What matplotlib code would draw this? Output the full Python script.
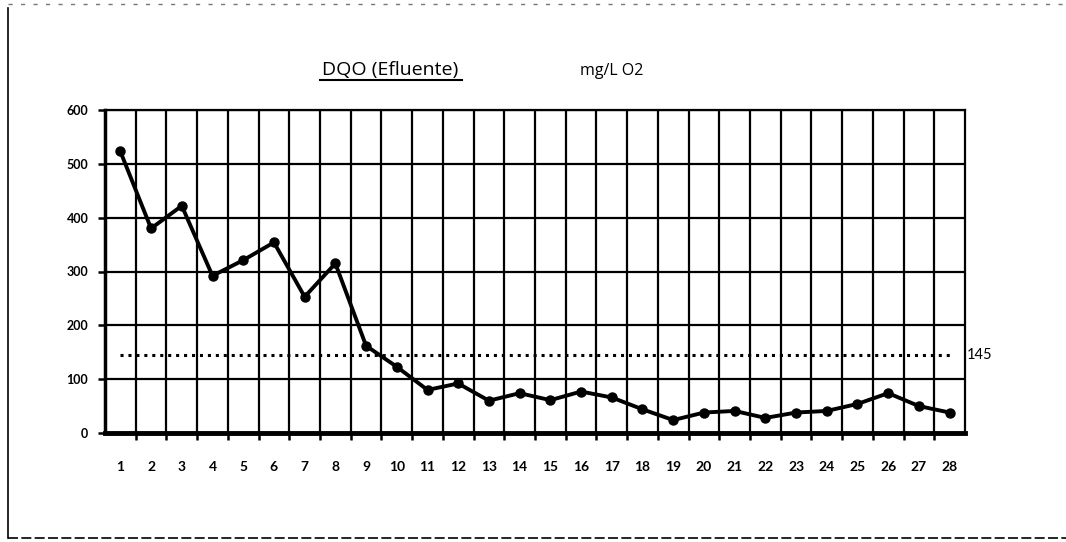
import matplotlib
matplotlib.use("Agg")
import matplotlib.pyplot as plt
from matplotlib.lines import Line2D
from matplotlib.ticker import FixedLocator

days = list(range(1, 29))
dqo = [523, 380, 422, 292, 321, 354, 253, 315, 162, 123, 80, 92, 60, 74, 61, 77, 66, 44, 24, 38, 41, 28, 38, 41, 54, 74, 50, 38]
limit_value = 145
y_ticks = [0, 100, 200, 300, 400, 500, 600]
title_text = "DQO (Efluente)"
unit_text = "mg/L O2"

fig = plt.figure(figsize=(10.66, 5.42), dpi=100)
ax = fig.add_axes([105/1066, 1-433/542, (965-105)/1066, (433-110)/542])

ax.set_xlim(0.5, 28.5)
ax.set_ylim(0, 600)

# grid
ax.xaxis.set_minor_locator(FixedLocator([d + 0.5 for d in days[:-1]]))
ax.set_xticks(days)
ax.set_yticks(y_ticks)
ax.grid(True, which="minor", axis="x", color="black", lw=1.6)
ax.grid(True, which="major", axis="y", color="black", lw=1.6)
ax.set_axisbelow(True)

ax.tick_params(axis="x", which="major", length=0, pad=20, labelsize=10)
ax.tick_params(axis="x", which="minor", length=5, width=1.8, direction="out")
ax.tick_params(axis="y", which="major", length=5, width=1.8, pad=7, labelsize=9)
for lbl in ax.get_xticklabels() + ax.get_yticklabels():
    lbl.set_fontfamily("Lato")
    lbl.set_fontweight("bold")

for side in ["top", "right"]:
    ax.spines[side].set_linewidth(1.6)
ax.spines["left"].set_linewidth(2.5)
ax.spines["bottom"].set_linewidth(3.5)

# limit line
ax.plot([days[0], days[-1]], [limit_value, limit_value], color="black", lw=2.2,
        linestyle=(0, (1, 1.6)))
ax.text(28.5 + 0.05, limit_value, str(limit_value), va="center", ha="left",
        fontsize=10.5, family="Lato", clip_on=False)

# data
ax.plot(days, dqo, color="black", lw=2.8, marker="o", markersize=6.5, zorder=5)

# titles
fig.text(390/1066, 1-75/542, title_text, ha="center", va="baseline",
         fontsize=14, family="Open Sans")
fig.add_artist(Line2D([320/1066, 462/1066], [1-80/542, 1-80/542], color="black", lw=1.5))
fig.text(612/1066, 1-75/542, unit_text, ha="center", va="baseline", fontsize=11.5,
         family="Open Sans")

# outer frame artifacts
fig.add_artist(Line2D([8/1066, 8/1066], [1-8/542, 1-538/542], color="black", lw=1.2))
fig.add_artist(Line2D([8/1066, 1], [1-538/542, 1-538/542], color="black", lw=1.2,
                      linestyle=(0, (6, 2))))
fig.add_artist(Line2D([8/1066, 1], [1-4/542, 1-4/542], color="#777777", lw=1,
                      linestyle=(0, (3, 6))))

fig.savefig("out.png", dpi=100)
